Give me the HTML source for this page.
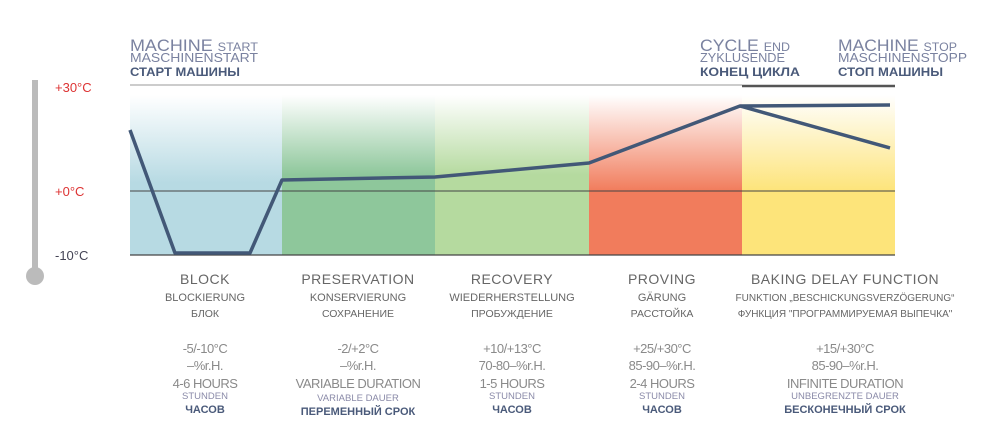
<!DOCTYPE html>
<html><head><meta charset="utf-8"><style>
html,body{margin:0;padding:0;background:#fff;}
svg{display:block;font-family:"Liberation Sans","DejaVu Sans",sans-serif;}
</style></head><body>
<svg width="997" height="438" viewBox="0 0 997 438" xmlns="http://www.w3.org/2000/svg">
<defs>
<linearGradient id="gb" x1="0" y1="0" x2="0" y2="1"><stop offset="0" stop-color="#b7dae3" stop-opacity="0"/><stop offset="0.55" stop-color="#b7dae3"/><stop offset="1" stop-color="#b7dae3"/></linearGradient>
<linearGradient id="gg" x1="0" y1="0" x2="0" y2="1"><stop offset="0" stop-color="#8ec79b" stop-opacity="0"/><stop offset="0.5" stop-color="#8ec79b"/><stop offset="1" stop-color="#8ec79b"/></linearGradient>
<linearGradient id="gl" x1="0" y1="0" x2="0" y2="1"><stop offset="0" stop-color="#b5da9f" stop-opacity="0"/><stop offset="0.5" stop-color="#b5da9f"/><stop offset="1" stop-color="#b5da9f"/></linearGradient>
<linearGradient id="gr" x1="0" y1="0" x2="0" y2="1"><stop offset="0" stop-color="#f17c5c" stop-opacity="0"/><stop offset="0.6" stop-color="#f17c5c"/><stop offset="1" stop-color="#f17c5c"/></linearGradient>
<linearGradient id="gy" x1="0" y1="0" x2="0" y2="1"><stop offset="0" stop-color="#fde47a" stop-opacity="0"/><stop offset="0.6" stop-color="#fde47a"/><stop offset="1" stop-color="#fde47a"/></linearGradient>
</defs>
<rect x="130" y="95" width="152" height="160" fill="url(#gb)"/>
<rect x="282" y="95" width="153" height="160" fill="url(#gg)"/>
<rect x="435" y="95" width="154" height="160" fill="url(#gl)"/>
<rect x="589" y="95" width="153" height="160" fill="url(#gr)"/>
<rect x="742" y="95" width="153" height="160" fill="url(#gy)"/>
<line x1="130" y1="85" x2="742" y2="85" stroke="#999" stroke-width="1"/>
<line x1="742" y1="86" x2="895" y2="86" stroke="#555" stroke-width="2.5"/>
<line x1="130" y1="191" x2="895" y2="191" stroke="#444" stroke-width="1"/>
<line x1="130" y1="255" x2="895" y2="255" stroke="#444" stroke-width="1.2"/>
<rect x="32" y="80" width="6" height="190" fill="#bbb"/>
<circle cx="35" cy="276" r="9" fill="#bbb"/>
<g font-size="13" fill="#d33">
<text x="55" y="92">+30°C</text><text x="55" y="196">+0°C</text></g>
<text x="55" y="260" font-size="13" fill="#445">-10°C</text>
<polyline points="130,130 175,253 250,253 282,180 435,177 589,163 740,106 890,105" fill="none" stroke="#425877" stroke-width="3.5" stroke-linejoin="round"/>
<polyline points="740,106 890,148" fill="none" stroke="#425877" stroke-width="3.5"/>
<g fill="#7a82a0" font-size="17">
<text x="130" y="51" textLength="128" lengthAdjust="spacingAndGlyphs">MACHINE <tspan font-size="12">START</tspan></text>
<text x="130" y="62" font-size="13" textLength="128" lengthAdjust="spacingAndGlyphs">MASCHINENSTART</text>
<text x="700" y="51" textLength="90" lengthAdjust="spacingAndGlyphs">CYCLE <tspan font-size="12">END</tspan></text>
<text x="700" y="62" font-size="13" textLength="85" lengthAdjust="spacingAndGlyphs">ZYKLUSENDE</text>
<text x="838" y="51" textLength="119" lengthAdjust="spacingAndGlyphs">MACHINE <tspan font-size="12">STOP</tspan></text>
<text x="838" y="62" font-size="13" textLength="129" lengthAdjust="spacingAndGlyphs">MASCHINENSTOPP</text>
</g>
<g fill="#4a5a7a" font-size="12" font-weight="bold">
<text x="130" y="76" textLength="110" lengthAdjust="spacingAndGlyphs">СТАРТ МАШИНЫ</text>
<text x="700" y="76" textLength="100" lengthAdjust="spacingAndGlyphs">КОНЕЦ ЦИКЛА</text>
<text x="838" y="76" textLength="105" lengthAdjust="spacingAndGlyphs">СТОП МАШИНЫ</text>
</g>
<g text-anchor="middle" fill="#666">
<g font-size="14" letter-spacing="0.5"><text x="205" y="284">BLOCK</text><text x="358" y="284">PRESERVATION</text><text x="512" y="284">RECOVERY</text><text x="662" y="284">PROVING</text><text x="845" y="284">BAKING DELAY FUNCTION</text></g>
<g font-size="11"><text x="205" y="301">BLOCKIERUNG</text><text x="358" y="301">KONSERVIERUNG</text><text x="512" y="301">WIEDERHERSTELLUNG</text><text x="662" y="301">GÄRUNG</text><text x="845" y="301" font-size="10">FUNKTION „BESCHICKUNGSVERZÖGERUNG“</text></g>
<g font-size="10.5"><text x="205" y="317">БЛОК</text><text x="358" y="317">СОХРАНЕНИЕ</text><text x="512" y="317">ПРОБУЖДЕНИЕ</text><text x="662" y="317">РАССТОЙКА</text><text x="845" y="317" font-size="10">ФУНКЦИЯ "ПРОГРАММИРУЕМАЯ ВЫПЕЧКА"</text></g>
<g font-size="13" fill="#8a8a8a" letter-spacing="-0.5"><text x="205" y="353">-5/-10°C</text><text x="358" y="353">-2/+2°C</text><text x="512" y="353">+10/+13°C</text><text x="662" y="353">+25/+30°C</text><text x="845" y="353">+15/+30°C</text>
<text x="205" y="370">–%r.H.</text><text x="358" y="370">–%r.H.</text><text x="512" y="370">70-80–%r.H.</text><text x="662" y="370">85-90–%r.H.</text><text x="845" y="370">85-90–%r.H.</text>
<text x="205" y="388">4-6 HOURS</text><text x="358" y="388">VARIABLE DURATION</text><text x="512" y="388">1-5 HOURS</text><text x="662" y="388">2-4 HOURS</text><text x="845" y="388">INFINITE DURATION</text></g>
<g font-size="9.5" fill="#8a8aa8"><text x="205" y="399">STUNDEN</text><text x="358" y="401">VARIABLE DAUER</text><text x="512" y="399">STUNDEN</text><text x="662" y="399">STUNDEN</text><text x="845" y="399">UNBEGRENZTE DAUER</text></g>
<g font-size="11" fill="#4a5a7a" font-weight="bold"><text x="205" y="413">ЧАСОВ</text><text x="358" y="415">ПЕРЕМЕННЫЙ СРОК</text><text x="512" y="413">ЧАСОВ</text><text x="662" y="413">ЧАСОВ</text><text x="845" y="413">БЕСКОНЕЧНЫЙ СРОК</text></g>
</g>
</svg>
</body></html>
